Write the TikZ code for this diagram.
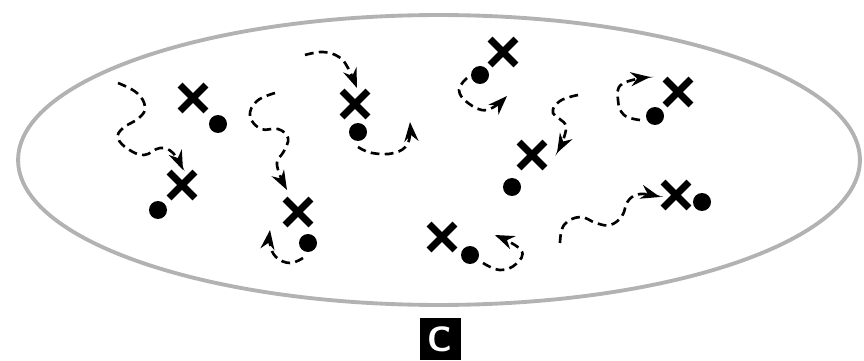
\documentclass[tikz,border=0pt]{standalone}
\usetikzlibrary{arrows.meta,shapes.misc}

\begin{document}
\begin{tikzpicture}[
  x=0.02cm, y=-0.02cm,
  xmark/.style={cross out,draw=black,line width=3.9pt,minimum size=0.38cm,inner sep=0pt},
  dot/.style={circle,fill=black,minimum size=0.36cm,inner sep=0pt},
  walk/.style={->,black,line width=1.5pt,dash pattern=on 5pt off 3pt},
  tag/.style={fill=black,text=white,font=\fontsize{20}{20}\sffamily\bfseries,
              minimum width=0.82cm,minimum height=0.84cm,inner sep=0pt},
  >={Stealth[length=11pt,width=8pt]}
]
\useasboundingbox (0,0) rectangle (864,361);

% boundary
\draw[gray!60,line width=2.2pt] (439,160) ellipse [x radius=8.42cm, y radius=2.9cm];

% marks and particles
\node[xmark] (x1) at (193,98)  {};  \node[dot] (d1) at (218,124) {};
\node[xmark] (x2) at (182,185) {};  \node[dot] (d2) at (158,210) {};
\node[xmark] (x3) at (298,212) {};  \node[dot] (d3) at (308,243) {};
\node[xmark] (x4) at (355,104) {};  \node[dot] (d4) at (358,132) {};
\node[xmark] (x5) at (503,52)  {};  \node[dot] (d5) at (480,75)  {};
\node[xmark] (x6) at (532,155) {};  \node[dot] (d6) at (512,187) {};
\node[xmark] (x7) at (442,237) {};  \node[dot] (d7) at (470,255) {};
\node[xmark] (x8) at (676,195) {};  \node[dot] (d8) at (702,202) {};
\node[xmark] (x9) at (678,92)  {};  \node[dot] (d9) at (655,116) {};

% random walks
\draw[walk] plot[smooth,tension=0.7] coordinates
  {(118,83) (137,93) (145,107) (139,118) (123,128) (118,138) (128,149) (144,155) (160,148) (173,153) (183,170)};
\draw[walk] plot[smooth,tension=0.7] coordinates
  {(275,93) (257,101) (250,116) (261,129) (278,129) (288,138) (284,151) (277,165) (287,190)};
\draw[walk] plot[smooth,tension=0.7] coordinates
  {(303,258) (290,263) (276,257) (270,244) (270,230)};
\draw[walk] plot[smooth,tension=0.7] coordinates
  {(305,55) (323,52) (339,57) (348,68) (357,88)};
\draw[walk] plot[smooth,tension=0.7] coordinates
  {(358,147) (372,153) (394,153) (408,143) (410,122)};
\draw[walk] plot[smooth,tension=0.7] coordinates
  {(467,78) (459,90) (468,103) (487,110) (507,96)};
\draw[walk] plot[smooth,tension=0.7] coordinates
  {(578,95) (560,101) (553,113) (566,127) (557,153)};
\draw[walk] plot[smooth,tension=0.7] coordinates
  {(483,263) (500,270) (516,264) (521,250) (495,235)};
\draw[walk] plot[smooth,tension=0.7] coordinates
  {(560,243) (564,225) (580,217) (596,223) (610,225) (622,216) (628,201) (640,194) (660,197)};
\draw[walk] plot[smooth,tension=0.7] coordinates
  {(640,120) (624,115) (618,100) (622,84) (650,77)};

% panel letter
\node[tag] (panel) at (440,339) {C};
\end{tikzpicture}
\end{document}
